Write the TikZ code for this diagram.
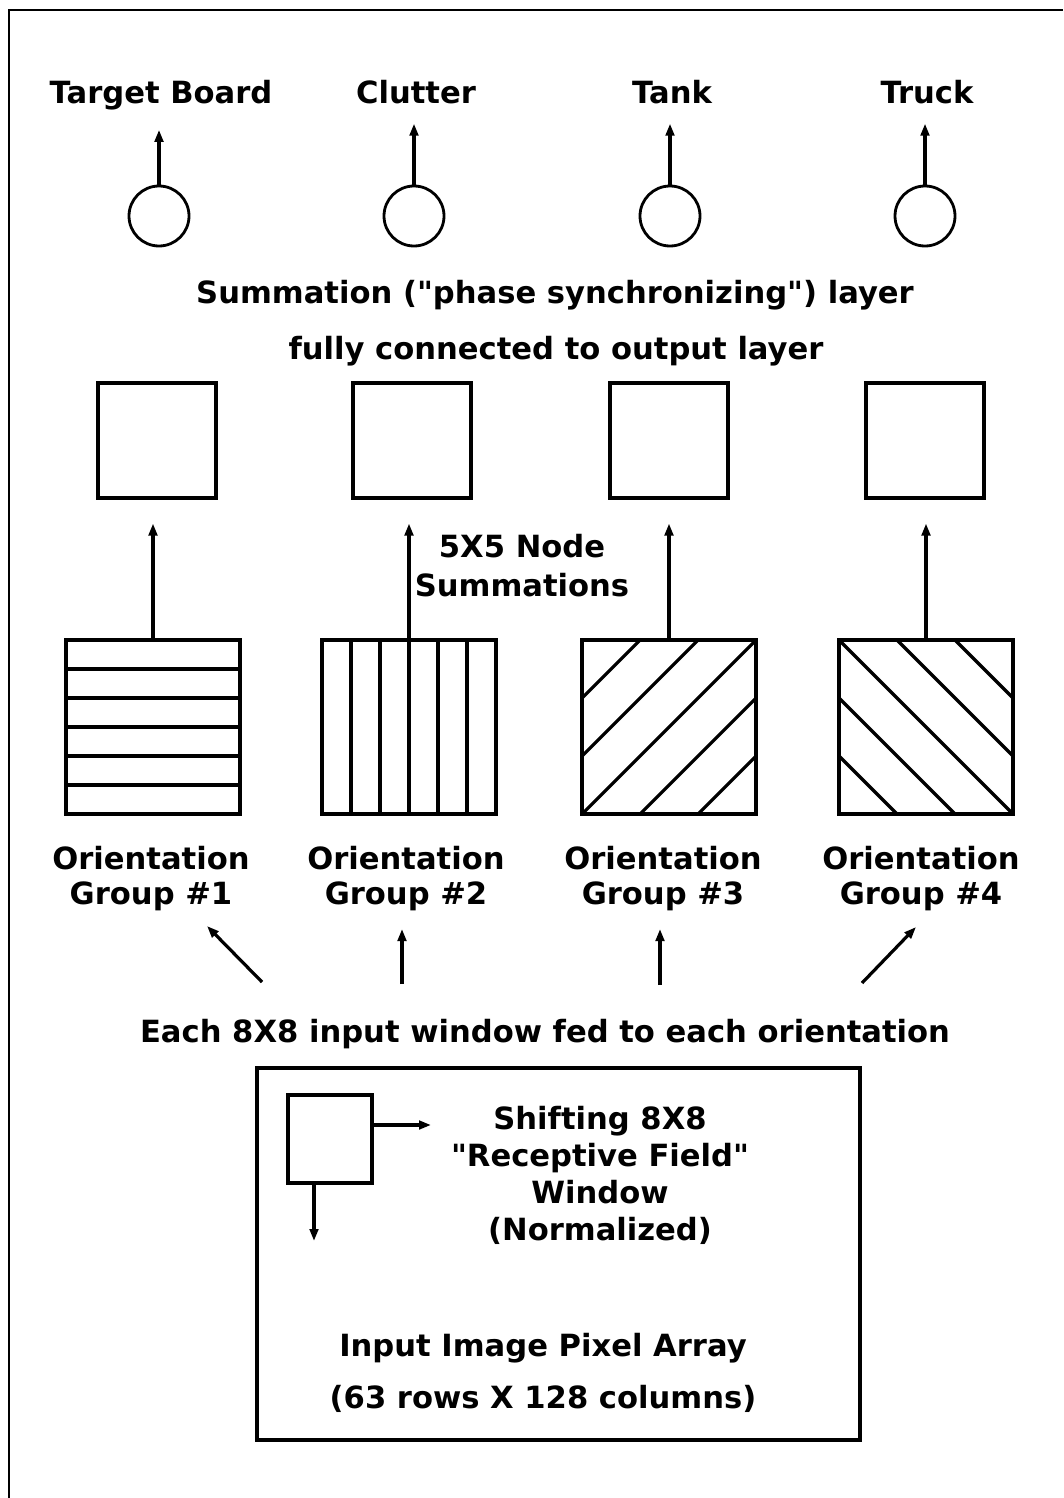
\documentclass[tikz,border=0pt]{standalone}
\usepackage{fontspec}
\newfontfamily\labfont{DejaVu Sans}
\usetikzlibrary{arrows.meta,calc}
\begin{document}
\begin{tikzpicture}[x=1pt,y=-1pt,
  lab/.style={font=\labfont\fontsize{30.6}{37}\selectfont\bfseries, align=center, inner sep=0pt},
  arr/.style={line width=3.2pt, -{Triangle[length=12pt,width=8.5pt]}},
  outc/.style={circle, draw, line width=2.8pt, minimum size=60pt, inner sep=0pt},
  sumsq/.style={draw, line width=4pt, minimum width=118pt, minimum height=115pt, inner sep=0pt},
  grp/.style={draw, line width=4.2pt, minimum width=174pt, minimum height=174pt, inner sep=0pt, outer sep=0pt},
  hatch/.style={line width=3.2pt},
  inbox/.style={draw, line width=3.8pt, minimum width=603pt, minimum height=372pt, inner sep=0pt},
  winbox/.style={draw, line width=3.2pt, minimum width=84pt, minimum height=88pt, inner sep=0pt}]
\useasboundingbox (0,0) rectangle (1063,1498);

% frame
\draw[line width=2.2pt] (9,1498) -- (9,10) -- (1063,10);

% output labels
\node[lab, anchor=base] (t1) at (161,104) {Target Board};
\node[lab, anchor=base] (t2) at (416,104) {Clutter};
\node[lab, anchor=base] (t3) at (672,104) {Tank};
\node[lab, anchor=base] (t4) at (927,104) {Truck};

% output circles
\node[outc] (c1) at (159,216) {};
\node[outc] (c2) at (414,216) {};
\node[outc] (c3) at (670,216) {};
\node[outc] (c4) at (925,216) {};
\foreach \i in {1,...,4}
  \draw[arr, shorten >=19pt] (c\i.north) -- (c\i.north |- t\i.south);

% layer text
\node[lab, anchor=base] (sumtxt) at (555,303) {Summation ("phase synchronizing") layer};
\node[lab, anchor=base] (fulltxt) at (556,359) {fully connected to output layer};

% summation squares
\node[sumsq] (s1) at (157,440) {};
\node[sumsq] (s2) at (412,440) {};
\node[sumsq] (s3) at (669,440) {};
\node[sumsq] (s4) at (925,440) {};

\node[lab, anchor=base, font=\labfont\fontsize{30.6}{39}\selectfont\bfseries] (nodesum) at (522,596) {5X5 Node\\Summations};

% orientation groups
\node[grp] (g1) at (153,727) {};
\node[grp] (g2) at (409,727) {};
\node[grp] (g3) at (669,727) {};
\node[grp] (g4) at (926,727) {};

\foreach \k in {1,...,5} {
  \draw[hatch] ($(g1.north west)+(0,\k*29)$) -- ($(g1.north east)+(0,\k*29)$);
  \draw[hatch] ($(g2.north west)+(\k*29,0)$) -- ($(g2.south west)+(\k*29,0)$);
}
\begin{scope}
  \clip (g3.south west) rectangle (g3.north east);
  \foreach \c in {-2,...,2}
    \draw[hatch] ($(g3.south west)+(\c*58,0)$) -- ++(174,-174);
\end{scope}
\begin{scope}
  \clip (g4.south west) rectangle (g4.north east);
  \foreach \c in {-2,...,2}
    \draw[hatch] ($(g4.north west)+(\c*58,0)$) -- ++(174,174);
\end{scope}
\foreach \i in {1,...,4} \node[grp] at (g\i) {};

\foreach \i in {1,...,4}
  \draw[arr, shorten >=24pt] (g\i.north) -- (g\i.north |- s\i.south);

% orientation labels
\node[lab, anchor=north, font=\labfont\fontsize{30.6}{35}\selectfont\bfseries] (o1) at (151,846) {Orientation\\Group \#1};
\node[lab, anchor=north, font=\labfont\fontsize{30.6}{35}\selectfont\bfseries] (o2) at (406,846) {Orientation\\Group \#2};
\node[lab, anchor=north, font=\labfont\fontsize{30.6}{35}\selectfont\bfseries] (o3) at (663,846) {Orientation\\Group \#3};
\node[lab, anchor=north, font=\labfont\fontsize{30.6}{35}\selectfont\bfseries] (o4) at (921,846) {Orientation\\Group \#4};

% feed text and arrows
\node[lab, anchor=base] (feed) at (545,1042) {Each 8X8 input window fed to each orientation};
\coordinate (b1) at (262,982); \coordinate (e1) at (207,926);
\coordinate (b2) at (402,984); \coordinate (e2) at (402,929);
\coordinate (b3) at (660,985); \coordinate (e3) at (660,929);
\coordinate (b4) at (862,983); \coordinate (e4) at (916,927);
\foreach \i in {1,...,4} \draw[arr] (b\i) -- (e\i);

% input image
\node[inbox] (inp) at (558.5,1254) {};
\node[winbox] (win) at (330,1139) {};
\coordinate (wr) at (431,1125);
\coordinate (wd) at (314,1241);
\draw[arr] (win.east |- wr) -- (wr);
\draw[arr] (win.south -| wd) -- (wd);
\node[lab, anchor=base] (shift) at (600,1240) {Shifting 8X8\\"Receptive Field"\\Window\\(Normalized)};
\node[lab, anchor=base] (pix) at (543,1408) {Input Image Pixel Array\\[15pt](63 rows X 128 columns)};
\end{tikzpicture}
\end{document}
